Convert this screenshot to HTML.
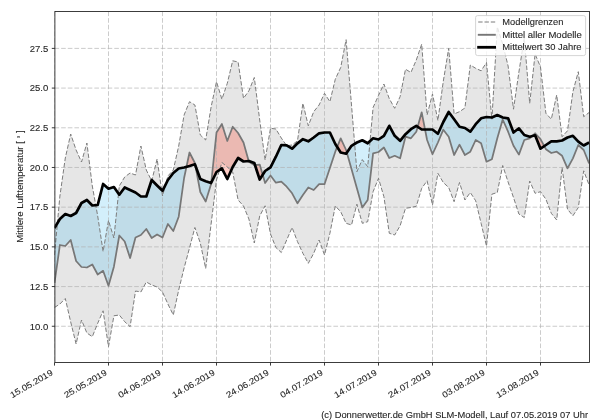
<!DOCTYPE html><html><head><meta charset="utf-8"><style>html,body{margin:0;padding:0;background:#fff;width:600px;height:420px;overflow:hidden}svg{display:block}text{font-family:"Liberation Sans",sans-serif;fill:#262626;stroke:#262626;stroke-width:0.1}svg{will-change:transform}</style></head><body>
<svg width="600" height="420" viewBox="0 0 600 420">
<rect width="600" height="420" fill="#fff"/>
<defs><clipPath id="ax"><rect x="54.5" y="11.5" width="535" height="351"/></clipPath></defs>
<g clip-path="url(#ax)">
<polygon points="54.50,255.00 59.90,196.00 65.30,158.00 70.70,134.00 76.10,150.00 81.50,162.00 86.90,143.00 92.30,186.00 97.70,216.00 103.10,251.50 108.50,220.50 113.90,238.00 119.30,186.00 124.70,177.00 130.10,173.00 135.50,175.00 140.90,146.00 146.30,170.00 151.70,181.00 157.10,159.00 162.50,196.00 167.90,176.00 173.30,170.00 178.70,146.00 184.10,115.00 189.50,101.70 194.90,105.00 200.30,135.00 205.70,140.00 211.10,107.00 216.50,81.70 221.90,99.20 227.30,83.30 232.70,60.80 238.10,62.00 243.50,98.30 248.90,90.80 254.30,77.50 259.70,120.00 265.10,160.00 270.50,128.30 275.90,129.00 281.30,138.00 286.70,145.80 292.10,145.00 297.50,140.80 302.90,103.30 308.30,125.80 313.70,111.70 319.10,105.00 324.50,93.30 329.90,101.70 335.30,79.20 340.70,67.50 346.10,39.70 351.50,105.00 356.90,171.70 362.30,159.60 367.70,166.70 373.10,107.50 378.50,95.40 383.90,84.00 389.30,98.70 394.70,108.30 400.10,96.70 405.50,69.20 410.90,72.50 416.30,60.00 421.70,44.20 427.10,115.00 432.50,94.00 437.90,120.50 443.30,81.20 448.70,48.30 454.10,114.00 459.50,111.70 464.90,108.00 470.30,65.00 475.70,68.30 481.10,70.80 486.50,62.50 491.90,119.20 497.30,27.00 502.70,44.00 508.10,66.00 513.50,109.20 518.90,72.00 524.30,38.00 529.70,103.30 535.10,54.00 540.50,67.00 545.90,113.30 551.30,119.20 556.70,95.00 562.10,136.70 567.50,130.80 572.90,91.70 578.30,71.70 583.70,116.70 589.10,112.50 589.10,185.00 583.70,170.80 578.30,207.50 572.90,215.80 567.50,209.20 562.10,167.50 556.70,220.00 551.30,213.30 545.90,199.20 540.50,191.70 535.10,193.30 529.70,181.00 524.30,217.50 518.90,214.00 513.50,197.50 508.10,182.00 502.70,165.50 497.30,192.50 491.90,194.20 486.50,246.00 481.10,223.30 475.70,200.80 470.30,192.50 464.90,200.00 459.50,182.50 454.10,201.70 448.70,187.50 443.30,182.50 437.90,173.30 432.50,205.00 427.10,180.80 421.70,188.30 416.30,206.25 410.90,207.50 405.50,208.30 400.10,225.80 394.70,235.00 389.30,233.30 383.90,196.70 378.50,178.30 373.10,191.70 367.70,221.70 362.30,223.30 356.90,204.20 351.50,225.00 346.10,223.30 340.70,211.70 335.30,206.00 329.90,233.30 324.50,255.00 319.10,240.00 313.70,253.30 308.30,263.30 302.90,253.30 297.50,241.70 292.10,227.50 286.70,240.00 281.30,252.50 275.90,247.50 270.50,234.00 265.10,205.80 259.70,216.00 254.30,243.00 248.90,219.00 243.50,206.00 238.10,200.00 232.70,172.00 227.30,167.00 221.90,162.50 216.50,180.00 211.10,224.00 205.70,268.50 200.30,243.00 194.90,227.50 189.50,248.00 184.10,268.00 178.70,290.00 173.30,315.00 167.90,304.00 162.50,292.00 157.10,287.00 151.70,285.00 146.30,282.00 140.90,292.00 135.50,291.00 130.10,326.70 124.70,321.70 119.30,315.00 113.90,315.80 108.50,346.70 103.10,310.80 97.70,323.30 92.30,336.70 86.90,333.00 81.50,320.00 76.10,344.00 70.70,322.00 65.30,298.50 59.90,304.00 54.50,307.50" fill="#e6e6e6"/>
<polygon points="54.50,228.00 59.90,219.00 65.30,214.00 70.70,216.00 76.10,213.00 81.50,203.00 86.90,200.00 92.30,205.50 97.70,205.00 103.10,184.00 108.50,188.70 113.90,187.00 119.30,194.70 124.70,187.50 130.10,190.00 135.50,192.50 140.90,196.50 146.30,196.50 151.70,180.00 157.10,185.50 162.50,190.80 167.90,180.00 173.30,173.00 178.70,168.50 184.10,167.50 186.46,166.84 186.46,166.84 184.10,178.00 178.70,216.70 173.30,231.00 167.90,224.00 162.50,237.50 157.10,234.50 151.70,238.00 146.30,229.00 140.90,235.00 135.50,237.50 130.10,258.00 124.70,241.50 119.30,235.50 113.90,266.70 108.50,285.80 103.10,270.80 97.70,274.50 92.30,264.50 86.90,267.50 81.50,267.00 76.10,261.00 70.70,240.00 65.30,246.00 59.90,245.00 54.50,283.00" fill="rgb(80,190,240)" fill-opacity="0.25"/>
<polygon points="195.39,165.64 200.30,179.00 205.70,181.20 211.10,183.00 211.23,182.73 211.23,182.73 211.10,184.00 205.70,201.50 200.30,192.00 195.39,165.64" fill="rgb(80,190,240)" fill-opacity="0.25"/>
<polygon points="248.71,161.02 248.90,161.00 254.30,163.00 254.94,164.95 254.94,164.95 254.30,165.00 248.90,161.70 248.71,161.02" fill="rgb(80,190,240)" fill-opacity="0.25"/>
<polygon points="262.69,174.79 265.10,171.00 270.50,167.30 275.90,156.70 281.30,145.00 286.70,145.30 292.10,148.70 297.50,143.30 302.90,139.20 308.30,141.30 313.70,137.50 319.10,133.30 324.50,132.50 329.90,132.50 335.30,144.00 337.20,146.99 337.20,146.99 335.30,151.70 329.90,168.00 324.50,184.20 319.10,184.20 313.70,190.00 308.30,187.50 302.90,195.00 297.50,203.30 292.10,193.30 286.70,186.70 281.30,181.70 275.90,182.70 270.50,175.50 265.10,183.00 262.69,174.79" fill="rgb(80,190,240)" fill-opacity="0.25"/>
<polygon points="346.84,152.61 351.50,145.80 356.90,142.50 362.30,140.30 367.70,143.30 373.10,138.30 378.50,139.50 383.90,135.80 389.30,125.80 394.70,135.80 400.10,140.80 405.50,134.20 410.90,129.20 416.30,125.80 417.68,126.75 417.68,126.75 416.30,131.70 410.90,138.30 405.50,136.70 400.10,158.30 394.70,155.80 389.30,158.00 383.90,147.50 378.50,152.00 373.10,153.30 367.70,200.00 362.30,207.50 356.90,188.30 351.50,169.00 346.84,152.61" fill="rgb(80,190,240)" fill-opacity="0.25"/>
<polygon points="425.05,129.50 427.10,129.50 432.50,129.50 437.90,133.70 443.30,122.00 448.70,112.00 454.10,119.20 459.50,126.70 464.90,128.00 470.30,131.70 475.70,124.20 481.10,118.30 486.50,117.00 491.90,117.50 497.30,115.00 502.70,117.50 508.10,118.30 513.50,132.50 518.90,128.30 524.30,135.00 529.70,136.70 532.10,136.08 532.10,136.08 529.70,138.30 524.30,140.00 518.90,154.60 513.50,145.80 508.10,131.70 502.70,119.50 497.30,138.30 491.90,159.20 486.50,161.70 481.10,143.30 475.70,140.00 470.30,151.70 464.90,155.00 459.50,144.70 454.10,155.00 448.70,136.70 443.30,129.70 437.90,142.50 432.50,154.20 427.10,140.00 425.05,129.50" fill="rgb(80,190,240)" fill-opacity="0.25"/>
<polygon points="544.24,146.13 545.90,145.00 551.30,141.30 556.70,141.30 562.10,140.50 567.50,137.50 572.90,135.80 578.30,141.70 583.70,145.50 589.10,142.50 589.10,163.30 583.70,150.00 578.30,145.00 572.90,158.30 567.50,168.30 562.10,155.80 556.70,151.70 551.30,153.00 545.90,149.20 544.24,146.13" fill="rgb(80,190,240)" fill-opacity="0.25"/>
<polygon points="186.46,166.84 189.50,166.00 194.90,164.30 195.39,165.64 195.39,165.64 194.90,163.00 189.50,152.50 186.46,166.84" fill="rgb(250,50,25)" fill-opacity="0.25"/>
<polygon points="211.23,182.73 216.50,172.00 221.90,168.30 227.30,179.00 232.70,167.00 238.10,158.00 243.50,161.50 248.71,161.02 248.71,161.02 243.50,142.50 238.10,133.00 232.70,126.70 227.30,141.00 221.90,124.00 216.50,132.50 211.23,182.73" fill="rgb(250,50,25)" fill-opacity="0.25"/>
<polygon points="254.94,164.95 259.70,179.50 262.69,174.79 262.69,174.79 259.70,164.60 254.94,164.95" fill="rgb(250,50,25)" fill-opacity="0.25"/>
<polygon points="337.20,146.99 340.70,152.50 346.10,153.70 346.84,152.61 346.84,152.61 346.10,150.00 340.70,138.30 337.20,146.99" fill="rgb(250,50,25)" fill-opacity="0.25"/>
<polygon points="417.68,126.75 421.70,129.50 425.05,129.50 425.05,129.50 421.70,112.30 417.68,126.75" fill="rgb(250,50,25)" fill-opacity="0.25"/>
<polygon points="532.10,136.08 535.10,135.30 540.50,148.70 544.24,146.13 544.24,146.13 540.50,139.20 535.10,133.30 532.10,136.08" fill="rgb(250,50,25)" fill-opacity="0.25"/>
<path d="M54.5 326.25H589.5 M54.5 286.56H589.5 M54.5 246.87H589.5 M54.5 207.17H589.5 M54.5 167.48H589.5 M54.5 127.79H589.5 M54.5 88.09H589.5 M54.5 48.40H589.5 M54.50 11.5V362.4 M108.50 11.5V362.4 M162.50 11.5V362.4 M216.50 11.5V362.4 M270.50 11.5V362.4 M324.50 11.5V362.4 M378.50 11.5V362.4 M432.50 11.5V362.4 M486.50 11.5V362.4 M540.50 11.5V362.4" stroke="#b0b0b0" stroke-opacity="0.65" stroke-width="1.0" stroke-dasharray="4.64 2" fill="none"/>
<polyline points="54.50,255.00 59.90,196.00 65.30,158.00 70.70,134.00 76.10,150.00 81.50,162.00 86.90,143.00 92.30,186.00 97.70,216.00 103.10,251.50 108.50,220.50 113.90,238.00 119.30,186.00 124.70,177.00 130.10,173.00 135.50,175.00 140.90,146.00 146.30,170.00 151.70,181.00 157.10,159.00 162.50,196.00 167.90,176.00 173.30,170.00 178.70,146.00 184.10,115.00 189.50,101.70 194.90,105.00 200.30,135.00 205.70,140.00 211.10,107.00 216.50,81.70 221.90,99.20 227.30,83.30 232.70,60.80 238.10,62.00 243.50,98.30 248.90,90.80 254.30,77.50 259.70,120.00 265.10,160.00 270.50,128.30 275.90,129.00 281.30,138.00 286.70,145.80 292.10,145.00 297.50,140.80 302.90,103.30 308.30,125.80 313.70,111.70 319.10,105.00 324.50,93.30 329.90,101.70 335.30,79.20 340.70,67.50 346.10,39.70 351.50,105.00 356.90,171.70 362.30,159.60 367.70,166.70 373.10,107.50 378.50,95.40 383.90,84.00 389.30,98.70 394.70,108.30 400.10,96.70 405.50,69.20 410.90,72.50 416.30,60.00 421.70,44.20 427.10,115.00 432.50,94.00 437.90,120.50 443.30,81.20 448.70,48.30 454.10,114.00 459.50,111.70 464.90,108.00 470.30,65.00 475.70,68.30 481.10,70.80 486.50,62.50 491.90,119.20 497.30,27.00 502.70,44.00 508.10,66.00 513.50,109.20 518.90,72.00 524.30,38.00 529.70,103.30 535.10,54.00 540.50,67.00 545.90,113.30 551.30,119.20 556.70,95.00 562.10,136.70 567.50,130.80 572.90,91.70 578.30,71.70 583.70,116.70 589.10,112.50" stroke="#7c7c7c" stroke-width="1.0" stroke-dasharray="4.4 1.9" fill="none"/>
<polyline points="54.50,307.50 59.90,304.00 65.30,298.50 70.70,322.00 76.10,344.00 81.50,320.00 86.90,333.00 92.30,336.70 97.70,323.30 103.10,310.80 108.50,346.70 113.90,315.80 119.30,315.00 124.70,321.70 130.10,326.70 135.50,291.00 140.90,292.00 146.30,282.00 151.70,285.00 157.10,287.00 162.50,292.00 167.90,304.00 173.30,315.00 178.70,290.00 184.10,268.00 189.50,248.00 194.90,227.50 200.30,243.00 205.70,268.50 211.10,224.00 216.50,180.00 221.90,162.50 227.30,167.00 232.70,172.00 238.10,200.00 243.50,206.00 248.90,219.00 254.30,243.00 259.70,216.00 265.10,205.80 270.50,234.00 275.90,247.50 281.30,252.50 286.70,240.00 292.10,227.50 297.50,241.70 302.90,253.30 308.30,263.30 313.70,253.30 319.10,240.00 324.50,255.00 329.90,233.30 335.30,206.00 340.70,211.70 346.10,223.30 351.50,225.00 356.90,204.20 362.30,223.30 367.70,221.70 373.10,191.70 378.50,178.30 383.90,196.70 389.30,233.30 394.70,235.00 400.10,225.80 405.50,208.30 410.90,207.50 416.30,206.25 421.70,188.30 427.10,180.80 432.50,205.00 437.90,173.30 443.30,182.50 448.70,187.50 454.10,201.70 459.50,182.50 464.90,200.00 470.30,192.50 475.70,200.80 481.10,223.30 486.50,246.00 491.90,194.20 497.30,192.50 502.70,165.50 508.10,182.00 513.50,197.50 518.90,214.00 524.30,217.50 529.70,181.00 535.10,193.30 540.50,191.70 545.90,199.20 551.30,213.30 556.70,220.00 562.10,167.50 567.50,209.20 572.90,215.80 578.30,207.50 583.70,170.80 589.10,185.00" stroke="#7c7c7c" stroke-width="1.0" stroke-dasharray="4.4 1.9" fill="none"/>
<polyline points="54.50,283.00 59.90,245.00 65.30,246.00 70.70,240.00 76.10,261.00 81.50,267.00 86.90,267.50 92.30,264.50 97.70,274.50 103.10,270.80 108.50,285.80 113.90,266.70 119.30,235.50 124.70,241.50 130.10,258.00 135.50,237.50 140.90,235.00 146.30,229.00 151.70,238.00 157.10,234.50 162.50,237.50 167.90,224.00 173.30,231.00 178.70,216.70 184.10,178.00 189.50,152.50 194.90,163.00 200.30,192.00 205.70,201.50 211.10,184.00 216.50,132.50 221.90,124.00 227.30,141.00 232.70,126.70 238.10,133.00 243.50,142.50 248.90,161.70 254.30,165.00 259.70,164.60 265.10,183.00 270.50,175.50 275.90,182.70 281.30,181.70 286.70,186.70 292.10,193.30 297.50,203.30 302.90,195.00 308.30,187.50 313.70,190.00 319.10,184.20 324.50,184.20 329.90,168.00 335.30,151.70 340.70,138.30 346.10,150.00 351.50,169.00 356.90,188.30 362.30,207.50 367.70,200.00 373.10,153.30 378.50,152.00 383.90,147.50 389.30,158.00 394.70,155.80 400.10,158.30 405.50,136.70 410.90,138.30 416.30,131.70 421.70,112.30 427.10,140.00 432.50,154.20 437.90,142.50 443.30,129.70 448.70,136.70 454.10,155.00 459.50,144.70 464.90,155.00 470.30,151.70 475.70,140.00 481.10,143.30 486.50,161.70 491.90,159.20 497.30,138.30 502.70,119.50 508.10,131.70 513.50,145.80 518.90,154.60 524.30,140.00 529.70,138.30 535.10,133.30 540.50,139.20 545.90,149.20 551.30,153.00 556.70,151.70 562.10,155.80 567.50,168.30 572.90,158.30 578.30,145.00 583.70,150.00 589.10,163.30" stroke="#777777" stroke-width="1.75" stroke-linejoin="round" fill="none"/>
<polyline points="54.50,228.00 59.90,219.00 65.30,214.00 70.70,216.00 76.10,213.00 81.50,203.00 86.90,200.00 92.30,205.50 97.70,205.00 103.10,184.00 108.50,188.70 113.90,187.00 119.30,194.70 124.70,187.50 130.10,190.00 135.50,192.50 140.90,196.50 146.30,196.50 151.70,180.00 157.10,185.50 162.50,190.80 167.90,180.00 173.30,173.00 178.70,168.50 184.10,167.50 189.50,166.00 194.90,164.30 200.30,179.00 205.70,181.20 211.10,183.00 216.50,172.00 221.90,168.30 227.30,179.00 232.70,167.00 238.10,158.00 243.50,161.50 248.90,161.00 254.30,163.00 259.70,179.50 265.10,171.00 270.50,167.30 275.90,156.70 281.30,145.00 286.70,145.30 292.10,148.70 297.50,143.30 302.90,139.20 308.30,141.30 313.70,137.50 319.10,133.30 324.50,132.50 329.90,132.50 335.30,144.00 340.70,152.50 346.10,153.70 351.50,145.80 356.90,142.50 362.30,140.30 367.70,143.30 373.10,138.30 378.50,139.50 383.90,135.80 389.30,125.80 394.70,135.80 400.10,140.80 405.50,134.20 410.90,129.20 416.30,125.80 421.70,129.50 427.10,129.50 432.50,129.50 437.90,133.70 443.30,122.00 448.70,112.00 454.10,119.20 459.50,126.70 464.90,128.00 470.30,131.70 475.70,124.20 481.10,118.30 486.50,117.00 491.90,117.50 497.30,115.00 502.70,117.50 508.10,118.30 513.50,132.50 518.90,128.30 524.30,135.00 529.70,136.70 535.10,135.30 540.50,148.70 545.90,145.00 551.30,141.30 556.70,141.30 562.10,140.50 567.50,137.50 572.90,135.80 578.30,141.70 583.70,145.50 589.10,142.50" stroke="#000000" stroke-width="2.7" stroke-linejoin="round" fill="none"/>
</g>
<rect x="54.9" y="11.5" width="534.6" height="351" fill="none" stroke="#1a1a1a" stroke-width="0.85"/>
<path d="M51.8 326.25H54.9 M51.8 286.56H54.9 M51.8 246.87H54.9 M51.8 207.17H54.9 M51.8 167.48H54.9 M51.8 127.79H54.9 M51.8 88.09H54.9 M51.8 48.40H54.9 M54.50 362.4V365.6 M108.50 362.4V365.6 M162.50 362.4V365.6 M216.50 362.4V365.6 M270.50 362.4V365.6 M324.50 362.4V365.6 M378.50 362.4V365.6 M432.50 362.4V365.6 M486.50 362.4V365.6 M540.50 362.4V365.6" stroke="#262626" stroke-width="0.9" fill="none"/>
<text x="48.3" y="329.55" font-size="8.6" text-anchor="end" textLength="18.55" lengthAdjust="spacingAndGlyphs">10.0</text>
<text x="48.3" y="289.86" font-size="8.6" text-anchor="end" textLength="18.55" lengthAdjust="spacingAndGlyphs">12.5</text>
<text x="48.3" y="250.17" font-size="8.6" text-anchor="end" textLength="18.55" lengthAdjust="spacingAndGlyphs">15.0</text>
<text x="48.3" y="210.47" font-size="8.6" text-anchor="end" textLength="18.55" lengthAdjust="spacingAndGlyphs">17.5</text>
<text x="48.3" y="170.78" font-size="8.6" text-anchor="end" textLength="18.55" lengthAdjust="spacingAndGlyphs">20.0</text>
<text x="48.3" y="131.09" font-size="8.6" text-anchor="end" textLength="18.55" lengthAdjust="spacingAndGlyphs">22.5</text>
<text x="48.3" y="91.39" font-size="8.6" text-anchor="end" textLength="18.55" lengthAdjust="spacingAndGlyphs">25.0</text>
<text x="48.3" y="51.70" font-size="8.6" text-anchor="end" textLength="18.55" lengthAdjust="spacingAndGlyphs">27.5</text>
<g transform="translate(50.50,369.2) rotate(-30)"><text x="0" y="6" font-size="8.6" text-anchor="end" textLength="47.69" lengthAdjust="spacingAndGlyphs">15.05.2019</text></g>
<g transform="translate(104.50,369.2) rotate(-30)"><text x="0" y="6" font-size="8.6" text-anchor="end" textLength="47.69" lengthAdjust="spacingAndGlyphs">25.05.2019</text></g>
<g transform="translate(158.50,369.2) rotate(-30)"><text x="0" y="6" font-size="8.6" text-anchor="end" textLength="47.69" lengthAdjust="spacingAndGlyphs">04.06.2019</text></g>
<g transform="translate(212.50,369.2) rotate(-30)"><text x="0" y="6" font-size="8.6" text-anchor="end" textLength="47.69" lengthAdjust="spacingAndGlyphs">14.06.2019</text></g>
<g transform="translate(266.50,369.2) rotate(-30)"><text x="0" y="6" font-size="8.6" text-anchor="end" textLength="47.69" lengthAdjust="spacingAndGlyphs">24.06.2019</text></g>
<g transform="translate(320.50,369.2) rotate(-30)"><text x="0" y="6" font-size="8.6" text-anchor="end" textLength="47.69" lengthAdjust="spacingAndGlyphs">04.07.2019</text></g>
<g transform="translate(374.50,369.2) rotate(-30)"><text x="0" y="6" font-size="8.6" text-anchor="end" textLength="47.69" lengthAdjust="spacingAndGlyphs">14.07.2019</text></g>
<g transform="translate(428.50,369.2) rotate(-30)"><text x="0" y="6" font-size="8.6" text-anchor="end" textLength="47.69" lengthAdjust="spacingAndGlyphs">24.07.2019</text></g>
<g transform="translate(482.50,369.2) rotate(-30)"><text x="0" y="6" font-size="8.6" text-anchor="end" textLength="47.69" lengthAdjust="spacingAndGlyphs">03.08.2019</text></g>
<g transform="translate(536.50,369.2) rotate(-30)"><text x="0" y="6" font-size="8.6" text-anchor="end" textLength="47.69" lengthAdjust="spacingAndGlyphs">13.08.2019</text></g>
<g transform="translate(22.6,186.5) rotate(-90)"><text x="0" y="0" font-size="8.6" text-anchor="middle" textLength="112.5" lengthAdjust="spacingAndGlyphs">Mittlere Lufttemperatur [ <tspan font-size="6.5">°</tspan> ]</text></g>
<rect x="475.6" y="15.6" width="110" height="40" rx="2" ry="2" fill="#fff" fill-opacity="0.8" stroke="#d0d0d0" stroke-width="0.9"/>
<path d="M478.2 22H495.5" stroke="#7c7c7c" stroke-width="1.0" stroke-dasharray="4.4 1.9"/>
<path d="M477.8 34.8H495.8" stroke="#777777" stroke-width="1.9"/>
<path d="M477.2 47.3H496.0" stroke="#000" stroke-width="2.8"/>
<text x="502.3" y="25" font-size="8.6" textLength="61.04" lengthAdjust="spacingAndGlyphs">Modellgrenzen</text>
<text x="502.3" y="37.6" font-size="8.6" textLength="79.50" lengthAdjust="spacingAndGlyphs">Mittel aller Modelle</text>
<text x="502.3" y="50.2" font-size="8.6" textLength="79.20" lengthAdjust="spacingAndGlyphs">Mittelwert 30 Jahre</text>
<text x="321.2" y="418" font-size="8.6" textLength="266.82" lengthAdjust="spacingAndGlyphs">(c) Donnerwetter.de GmbH SLM-Modell, Lauf 07.05.2019 07 Uhr</text>
</svg></body></html>
